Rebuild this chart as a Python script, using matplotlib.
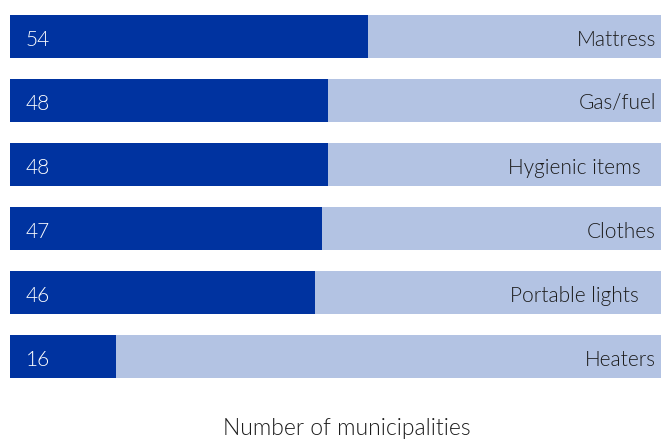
import matplotlib
matplotlib.use("Agg")
import matplotlib.pyplot as plt

categories = ["Mattress", "Gas/fuel", "Hygienic items", "Clothes", "Portable lights", "Heaters"]
values = [54, 48, 48, 47, 46, 16]
total = 98.2
label_pad = [0, 0, 15, 0, 17, 0]  # extra right padding (px) for some names

dark = "#0033A0"
light = "#B3C3E3"
text_dark = "#1c1c1c"

W, H = 661, 440
fig = plt.figure(figsize=(W / 100, H / 100), dpi=100)
ax = fig.add_axes([10 / W, (H - 388.5) / H, 1 - 10 / W, 384 / H])

ypos = list(range(len(categories)))
bh = 43 / 64
ax.barh(ypos, [total] * len(values), height=bh, color=light, linewidth=0)
ax.barh(ypos, values, height=bh, color=dark, linewidth=0)

ax.set_xlim(0, total)
ax.set_ylim(len(categories) - 0.5, -0.5)
ax.axis("off")

font = dict(family="Lato", weight=300, fontsize=15)
for y, v, c, p in zip(ypos, values, categories, label_pad):
    ax.annotate(str(v), xy=(0, y), xytext=(16, -3), textcoords="offset pixels",
                ha="left", va="center", color="white", **font)
    ax.annotate(c, xy=(total, y), xytext=(-5 - p, -3), textcoords="offset pixels",
                ha="right", va="center", color=text_dark, **font)

fig.text(347 / W, 1 - 428 / H, "Number of municipalities", ha="center", va="center",
         color=text_dark, family="Lato", weight=300, fontsize=16.5)

fig.savefig("out.png", dpi=100)
